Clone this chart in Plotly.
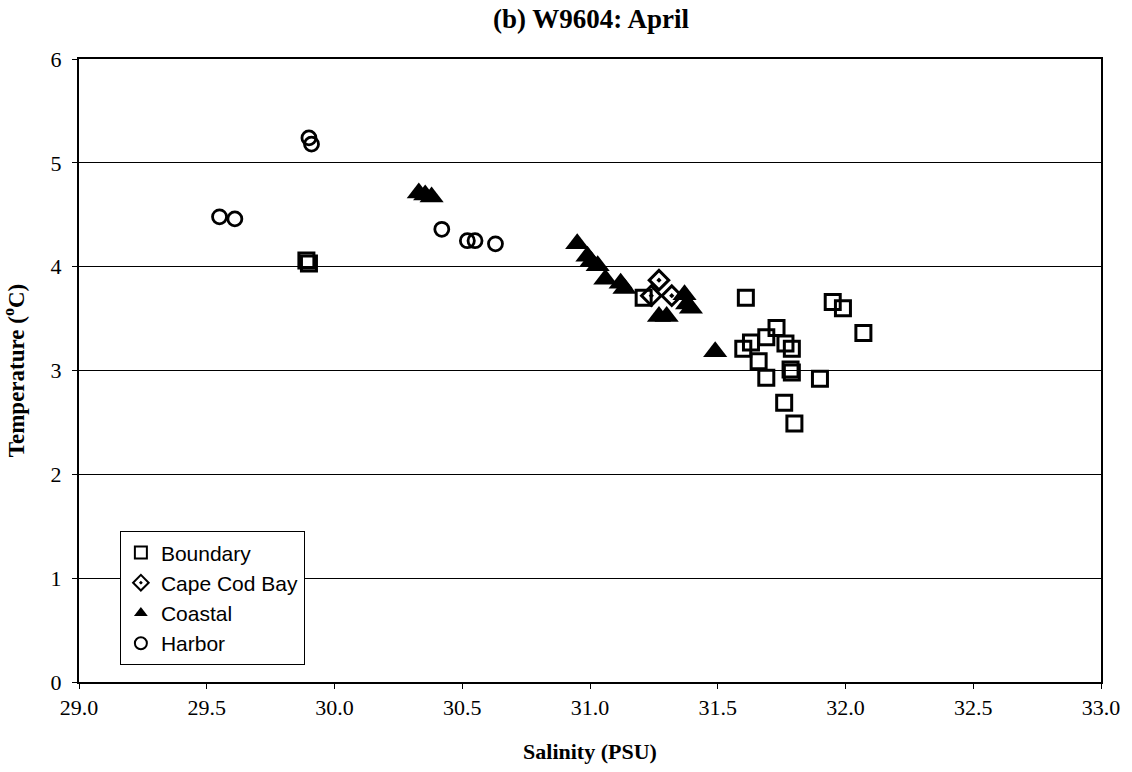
import plotly.graph_objects as go

# Salinity (PSU) / temperature (deg C) pairs for each station group
boundary_sal = [29.89, 29.90, 31.21, 31.61, 31.95, 31.99, 32.07, 31.73, 31.69, 31.63,
                31.60, 31.765, 31.79, 31.66, 31.785, 31.79, 31.69, 31.90, 31.76, 31.80]
boundary_temp = [4.06, 4.03, 3.70, 3.70, 3.66, 3.60, 3.36, 3.41, 3.32, 3.27,
                 3.21, 3.26, 3.21, 3.09, 3.01, 2.98, 2.93, 2.92, 2.69, 2.49]

capecod_sal = [31.27, 31.24, 31.32]
capecod_temp = [3.87, 3.72, 3.72]

coastal_sal = [30.33, 30.355, 30.38, 30.95, 30.99, 31.005, 31.03, 31.06, 31.12, 31.135,
               31.27, 31.30, 31.37, 31.38, 31.395, 31.49]
coastal_temp = [4.71, 4.69, 4.67, 4.22, 4.10, 4.05, 4.01, 3.88, 3.84, 3.79,
                3.52, 3.52, 3.73, 3.64, 3.60, 3.18]

harbor_sal = [29.90, 29.91, 29.55, 29.61, 30.42, 30.52, 30.55, 30.63]
harbor_temp = [5.24, 5.18, 4.48, 4.46, 4.36, 4.25, 4.25, 4.22]

x_ticks = [29.0, 29.5, 30.0, 30.5, 31.0, 31.5, 32.0, 32.5, 33.0]
y_ticks = [0, 1, 2, 3, 4, 5, 6]

serif = "Liberation Serif"
sans = "Liberation Sans"

fig = go.Figure()
fig.add_trace(go.Scatter(
    x=boundary_sal, y=boundary_temp, mode="markers", name="Boundary",
    marker=dict(symbol="square-open", size=15, color="black", line=dict(width=3, color="black"))))
fig.add_trace(go.Scatter(
    x=capecod_sal, y=capecod_temp, mode="markers", name="Cape Cod Bay",
    marker=dict(symbol="diamond-open-dot", size=15, color="black", line=dict(width=3, color="black"))))
fig.add_trace(go.Scatter(
    x=coastal_sal, y=coastal_temp, mode="markers", name="Coastal",
    marker=dict(symbol="triangle-up", size=21, color="black", line=dict(width=0))))
fig.add_trace(go.Scatter(
    x=harbor_sal, y=harbor_temp, mode="markers", name="Harbor",
    marker=dict(symbol="circle-open", size=14, color="black", line=dict(width=2.8, color="black"))))

fig.update_layout(
    width=1132, height=772,
    margin=dict(l=79, r=27, t=59, b=88),
    paper_bgcolor="white", plot_bgcolor="white",
    title=dict(text="<b>(b) W9604: April</b>", x=0.522, xanchor="center",
               y=0.988, yanchor="top", font=dict(family=serif, size=27, color="black")),
    font=dict(family=serif, size=20, color="black"),
    legend=dict(x=0.04, y=0.242, xanchor="left", yanchor="top",
                bgcolor="white", bordercolor="black", borderwidth=1,
                font=dict(family=sans, size=21, color="black"),
                itemsizing="constant", itemwidth=30, tracegroupgap=1),
    showlegend=True,
)

fig.update_xaxes(
    range=[29.0, 33.0], tickvals=x_ticks, ticktext=[f"{v:.1f}" for v in x_ticks],
    showgrid=False, zeroline=False,
    showline=True, linecolor="black", linewidth=2, mirror=True,
    ticks="outside", ticklen=5, tickcolor="black",
    tickfont=dict(family=serif, size=22, color="black"),
    title=dict(text="<b>Salinity (PSU)</b>", standoff=24,
               font=dict(family=serif, size=22, color="black")),
)
fig.update_yaxes(
    range=[0, 6], tickvals=y_ticks,
    showgrid=True, gridcolor="black", gridwidth=1, zeroline=False,
    showline=True, linecolor="black", linewidth=2, mirror=True,
    ticks="outside", ticklen=5, tickcolor="black", ticklabelstandoff=6,
    tickfont=dict(family=serif, size=22, color="black"),
    title=dict(text="<b>Temperature (<sup>o</sup>C)</b>", standoff=22,
               font=dict(family=serif, size=23, color="black")),
)

fig.write_html("out.html")
